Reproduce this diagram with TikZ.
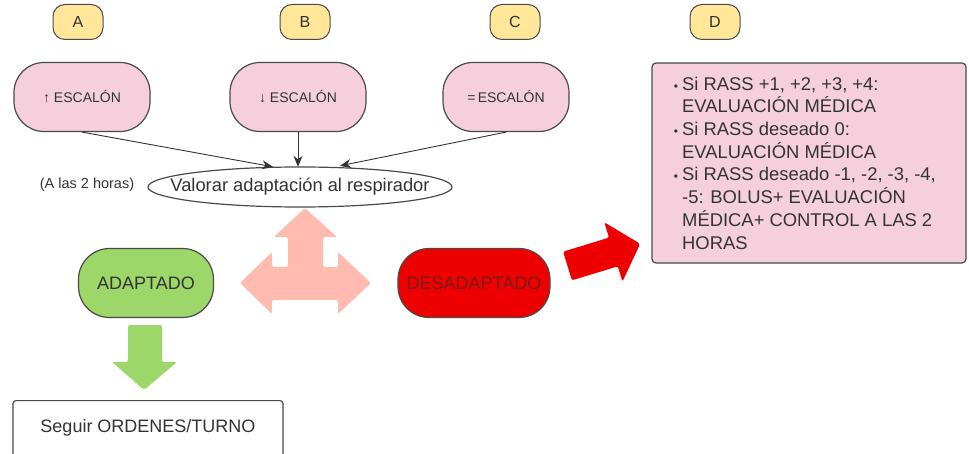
\documentclass[tikz,border=0pt]{standalone}
\usepackage{fontspec}
\setmainfont{Liberation Sans}
\usetikzlibrary{arrows.meta}
\definecolor{pillpink}{HTML}{F5D0DC}
\definecolor{tagyellow}{HTML}{FFE699}
\definecolor{okgreen}{HTML}{9DD76A}
\definecolor{alarmred}{HTML}{EE0000}
\definecolor{softsalmon}{HTML}{FFBBAF}
\definecolor{edgegray}{HTML}{4A4A4A}
\definecolor{textgray}{HTML}{333333}
\definecolor{deepred}{HTML}{7A1A1A}

\tikzset{
  tag/.style={
    draw=edgegray, fill=tagyellow, line width=1pt,
    rounded corners=12pt, minimum width=50pt, minimum height=35pt,
    inner sep=0pt, font=\fontsize{16}{18}\selectfont\color{textgray}
  },
  stepbox/.style={
    draw=edgegray, fill=pillpink, line width=1.2pt,
    rounded corners=30pt, minimum width=136pt, minimum height=69pt,
    font=\fontsize{14}{16}\selectfont\color{textgray}
  },
  statebox/.style={
    draw=edgegray, line width=1.2pt,
    rounded corners=31pt, minimum height=69pt,
    font=\fontsize{18}{20}\selectfont
  },
  feed/.style={-{Stealth[length=11pt,width=9pt]}, draw=textgray, line width=0.9pt}
}

\begin{document}
\begin{tikzpicture}[x=1pt,y=-1pt]
  \useasboundingbox (0,0) rectangle (969,454);
  \clip (0,0) rectangle (969,454);

  \node[tag] (tagA) at (78,22) {A};
  \node[tag] (tagB) at (305,22) {B};
  \node[tag] (tagC) at (515,22) {C};
  \node[tag] (tagD) at (715,22) {D};

  \node[stepbox] (subir) at (82,97) {↑ ESCALÓN};
  \node[stepbox] (bajar) at (298,97) {↓ ESCALÓN};
  \node[stepbox, minimum width=126pt] (igual) at (506,97) {=\,ESCALÓN};

  \node[
    minimum width=304pt,
    minimum height=40pt,
    inner sep=0pt,
    font=\fontsize{18.3}{20}\selectfont\color{textgray}
  ] (valorar) at (300,187) {Valorar adaptación al respirador};
  \draw[edgegray, line width=1.2pt] (valorar.center) ellipse (152 and 20);
  \node[font=\fontsize{14.5}{16}\selectfont\color{textgray}] (horas) at (87,185) {(A las 2 horas)};

  \draw[feed] (subir.south) -- ([xshift=-27pt]valorar.north);
  \draw[feed] (bajar.south) -- (bajar.south |- valorar.north);
  \draw[feed] (igual.south) -- ([xshift=40pt,yshift=1pt]valorar.north);

  % flecha de tres puntas
  \fill[softsalmon, rounded corners=2pt]
    (305,208) -- (337,237) -- (323,237) -- (323,267) -- (338,267) -- (338,252)
    -- (371,283) -- (338,314) -- (338,300) -- (272,300) -- (272,314) -- (240,283)
    -- (272,252) -- (272,267) -- (288,267) -- (288,237) -- (274,237) -- cycle;

  \node[statebox, fill=okgreen, minimum width=135pt, text=textgray] (adaptado) at (146,283) {ADAPTADO};
  \node[statebox, fill=alarmred, minimum width=152pt, text=deepred] (desadaptado) at (474,283) {DESADAPTADO};

  \begin{scope}[shift={(567.5,266)}, rotate=17]
    \fill[alarmred, rounded corners=2pt]
      (0,-15) -- (48,-15) -- (48,-31) -- (76,0) -- (48,31) -- (48,15) -- (0,15) -- cycle;
  \end{scope}

  \fill[okgreen, rounded corners=2pt]
    (128,325) -- (162,325) -- (162,362) -- (177,362) -- (144,390) -- (112,362) -- (128,362) -- cycle;

  \node[
    draw=edgegray,
    fill=pillpink,
    line width=1.2pt,
    rounded corners=4pt,
    minimum width=314pt,
    minimum height=200pt,
    align=left,
    font=\fontsize{18.4}{22.7}\selectfont\color{textgray}
  ] (medica) at (809,163) {%
    \llap{{\fontsize{12}{12}\selectfont\textbullet}\hspace{4pt}}Si RASS +1, +2, +3, +4:\\
    EVALUACIÓN MÉDICA\\
    \llap{{\fontsize{12}{12}\selectfont\textbullet}\hspace{4pt}}Si RASS deseado 0:\\
    EVALUACIÓN MÉDICA\\
    \llap{{\fontsize{12}{12}\selectfont\textbullet}\hspace{4pt}}Si RASS deseado -1, -2, -3, -4,\\
    -5: BOLUS+ EVALUACIÓN\\
    MÉDICA+ CONTROL A LAS 2\\
    HORAS%
  };

  \node[
    draw=edgegray,
    line width=1.2pt,
    rounded corners=3pt,
    minimum width=270pt,
    minimum height=60pt,
    text height=13pt,
    text depth=10pt,
    anchor=north,
    font=\fontsize{18}{20}\selectfont\color{textgray}
  ] (seguir) at (148,400) {Seguir ORDENES/TURNO};
\end{tikzpicture}
\end{document}
